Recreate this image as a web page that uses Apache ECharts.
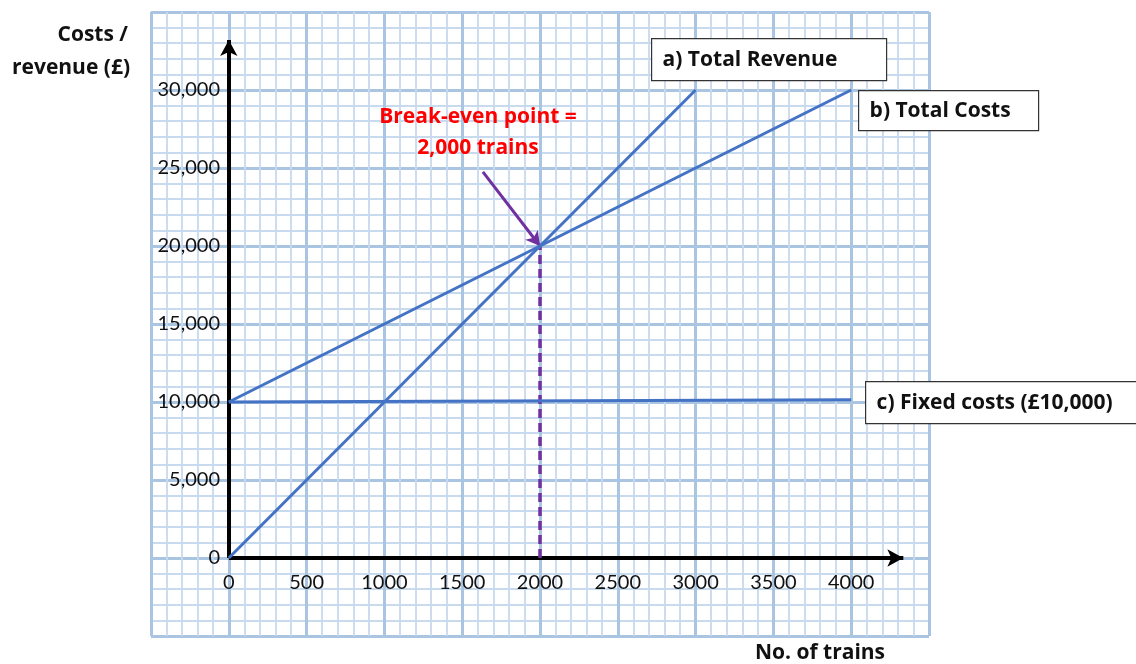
<!DOCTYPE html>
<html>
<head>
<meta charset="utf-8">
<script src="https://cdn.jsdelivr.net/npm/echarts@6/dist/echarts.min.js"></script>
<style>
html,body{margin:0;padding:0;background:#fff;}
#chart{width:1136px;height:664px;}
</style>
</head>
<body>
<div id="chart"></div>
<script>
// ---- data ----
const xTicks = [0, 500, 1000, 1500, 2000, 2500, 3000, 3500, 4000];
const yTicks = [0, 5000, 10000, 15000, 20000, 25000, 30000];
const revenueX = [0, 3000];
const revenueY = [0, 30000];
const totalCostX = [0, 4000];
const totalCostY = [10000, 30000];
const fixedCostX = [0, 4000];
const fixedCostY = [10000, 10150];
const breakEven = [2000, 20000];
const arrowStart = [1633, 24750];
const xAxisEnd = 4335;
const yAxisEnd = 33200;
const labels = {
  revenue: 'a) Total Revenue',
  costs: 'b) Total Costs',
  fixed: 'c) Fixed costs (£10,000)',
  be1: 'Break-even point =',
  be2: '2,000 trains',
  yTitle1: 'Costs /',
  yTitle2: 'revenue (£)',
  xTitle: 'No. of trains'
};

const FONT = 'Lato, "Open Sans", sans-serif';
const BFONT = '"Open Sans", Lato, sans-serif';
const BOLD = 'bold 21px ' + BFONT;
const BLUE = '#4472C4';
const PURPLE = '#7030A0';
const zip = (a, b) => a.map((v, i) => [v, b[i]]);

const chart = echarts.init(document.getElementById('chart'), null, {renderer: 'canvas'});

const majorLine = {show: true, lineStyle: {color: '#AAC5E1', width: 3}};
const minorLine = {show: true, lineStyle: {color: '#C8DAEE', width: 1.8}};

function boxLabel(x, y, w, h, text) {
  return {
    type: 'group', left: x, top: y, z: 100,
    children: [
      {type: 'rect', z: 100, shape: {x: 0, y: 0, width: w, height: h},
       style: {fill: '#fff', stroke: '#333', lineWidth: 1.2}},
      {type: 'text', z: 101, x: 11, y: h / 2,
       style: {text: text, fill: '#111', font: BOLD, verticalAlign: 'middle'}}
    ]
  };
}
function txt(x, y, text, color, align) {
  return {type: 'text', x: x, y: y, z: 100,
    style: {text: text, fill: color, font: BOLD, align: align, verticalAlign: 'middle'}};
}

const option = {
  animation: false,
  backgroundColor: '#fff',
  grid: {left: 151, right: 207, top: 12, bottom: 28, containLabel: false, outerBoundsMode: 'none'},
  xAxis: {
    type: 'value', min: -500, max: 4500, interval: 500,
    axisLine: {show: false},
    axisTick: {show: false},
    minorTick: {show: false, splitNumber: 5},
    splitLine: majorLine,
    minorSplitLine: minorLine,
    axisLabel: {
      margin: -63, fontSize: 20, color: '#111', fontFamily: FONT,
      showMinLabel: true, showMaxLabel: true,
      formatter: v => xTicks.indexOf(v) >= 0 ? String(v) : ''
    }
  },
  yAxis: {
    type: 'value', min: -5000, max: 35000, interval: 5000,
    axisLine: {show: false},
    axisTick: {show: false},
    minorTick: {show: false, splitNumber: 5},
    splitLine: majorLine,
    minorSplitLine: minorLine,
    axisLabel: {
      margin: -69, fontSize: 20, color: '#111', fontFamily: FONT,
      formatter: v => yTicks.indexOf(v) >= 0 ? v.toLocaleString('en-US') : ''
    }
  },
  series: [
    {
      name: 'Total Revenue', type: 'line', data: zip(revenueX, revenueY),
      showSymbol: false, silent: true, z: 5,
      lineStyle: {color: BLUE, width: 3}
    },
    {
      name: 'Total Costs', type: 'line', data: zip(totalCostX, totalCostY),
      showSymbol: false, silent: true, z: 5,
      lineStyle: {color: BLUE, width: 3}
    },
    {
      name: 'Fixed Costs', type: 'line', data: zip(fixedCostX, fixedCostY),
      showSymbol: false, silent: true, z: 5,
      lineStyle: {color: BLUE, width: 3},
      markLine: {
        silent: true, animation: false,
        label: {show: false},
        emphasis: {disabled: true},
        data: [
          [{coord: [0, 0], symbol: 'none', lineStyle: {color: '#000', width: 4, type: 'solid'}},
           {coord: [xAxisEnd, 0], symbol: 'arrow', symbolSize: [13, 16]}],
          [{coord: [0, 0], symbol: 'none', lineStyle: {color: '#000', width: 4, type: 'solid'}},
           {coord: [0, yAxisEnd], symbol: 'arrow', symbolSize: [13, 16]}],
          [{coord: [breakEven[0], 0], symbol: 'none', lineStyle: {color: PURPLE, width: 3.5, type: [9, 5]}},
           {coord: [breakEven[0], breakEven[1]], symbol: 'none'}],
          [{coord: arrowStart, symbol: 'none', lineStyle: {color: PURPLE, width: 3, type: 'solid'}},
           {coord: [breakEven[0], breakEven[1]], symbol: 'arrow', symbolSize: [12, 14]}]
        ]
      }
    }
  ],
  graphic: [
    boxLabel(651, 38, 235, 42, labels.revenue),
    boxLabel(858, 90, 180, 40, labels.costs),
    boxLabel(865, 381, 272, 42, labels.fixed),
    txt(478, 117, labels.be1, '#FF0000', 'center'),
    txt(478, 148, labels.be2, '#FF0000', 'center'),
    txt(128, 35, labels.yTitle1, '#111', 'right'),
    txt(130, 68, labels.yTitle2, '#111', 'right'),
    txt(820, 653, labels.xTitle, '#111', 'center')
  ]
};
chart.setOption(option);
</script>
</body>
</html>
